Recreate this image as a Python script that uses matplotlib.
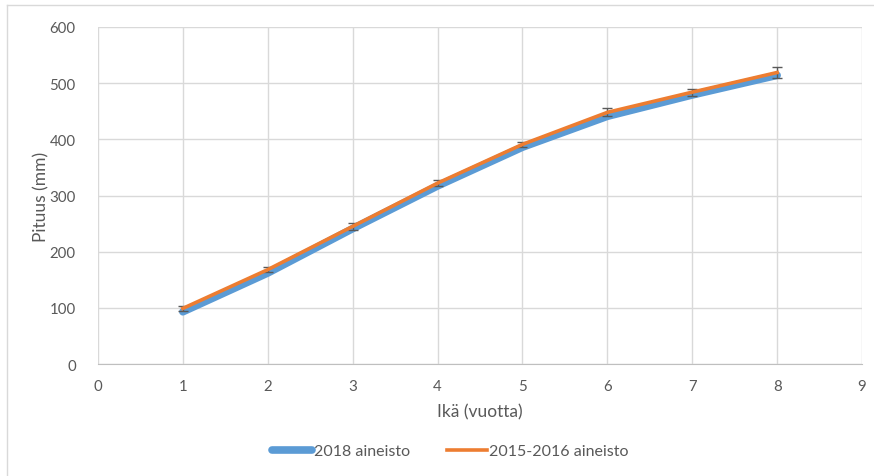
import matplotlib.pyplot as plt
import matplotlib.lines as mlines

age = [1, 2, 3, 4, 5, 6, 7, 8]
len_2018 = [93, 162, 241, 317, 386, 441, 479, 514]
len_2015 = [99, 168, 245, 322, 391, 448, 484, 519]
err_2015 = [4, 5, 6, 5, 5, 7, 6, 9]

plt.rcParams['font.family'] = ['Lato', 'DejaVu Sans']
grey = '#595959'

fig = plt.figure(figsize=(8.74, 4.77), dpi=100)
ax = fig.add_axes([0.1121, 0.2348, 0.8742, 0.7065])

ax.plot(age, len_2018, color='#5B9BD5', linewidth=5.5, solid_capstyle='round',
        label='2018 aineisto', zorder=3)
ax.errorbar(age, len_2015, yerr=err_2015, color='#ED7D31', linewidth=2.6,
            ecolor=grey, elinewidth=1, capsize=3.5, capthick=1,
            label='2015-2016 aineisto', zorder=4)

ax.set_xlim(0, 9)
ax.set_ylim(0, 600)
ax.set_xticks(range(0, 10))
ax.set_yticks(range(0, 601, 100))
ax.grid(True, color='#d9d9d9', linewidth=1)
ax.set_axisbelow(True)
for s in ['top', 'right', 'left']:
    ax.spines[s].set_visible(False)
ax.spines['bottom'].set_color('#bfbfbf')
ax.tick_params(length=0, labelsize=10.8, colors=grey)
ax.tick_params(axis='y', pad=16)
ax.tick_params(axis='x', pad=11)
ax.set_xlabel('Ikä (vuotta)', fontsize=12.5, color=grey, labelpad=7)
ax.set_ylabel('Pituus (mm)', fontsize=12.5, color=grey, labelpad=0)

h1 = mlines.Line2D([], [], color='#5B9BD5', linewidth=5.5, solid_capstyle='round')
h2 = mlines.Line2D([], [], color='#ED7D31', linewidth=2.6)
fig.legend([h1, h2], ['2018 aineisto', '2015-2016 aineisto'], loc='center',
           bbox_to_anchor=(0.515, 0.052), ncol=2, frameon=False, fontsize=11.5,
           labelcolor=grey, handlelength=2.5, handletextpad=0.15, columnspacing=2.3)

# outer frame lines (left and top)
fig.add_artist(mlines.Line2D([0.008, 0.008], [0, 0.987], color='#d9d9d9', linewidth=1))
fig.add_artist(mlines.Line2D([0.008, 1], [0.987, 0.987], color='#d9d9d9', linewidth=1))

fig.savefig('out.png', dpi=100)
